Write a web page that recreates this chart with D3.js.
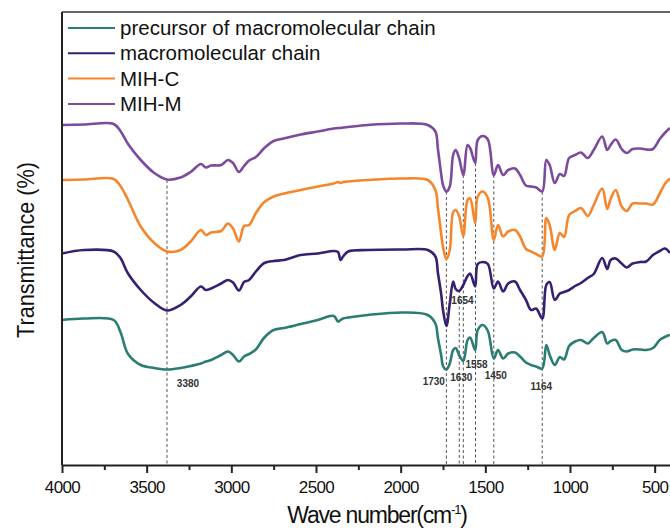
<!DOCTYPE html>
<html>
<head>
<meta charset="utf-8">
<script src="https://cdn.jsdelivr.net/npm/d3@7"></script>
<style>
  body { margin: 0; background: #fff; }
  svg { display: block; font-family: "Liberation Sans", Arial, sans-serif; }
</style>
</head>
<body>
<div id="chart"></div>
<script>
// wave numbers (cm-1) shared by all spectra
var wavenumbers = [4000, 3870, 3695, 3655, 3610, 3535, 3455, 3380, 3300, 3240,
  3180, 3150, 3120, 3060, 3020, 2990, 2955, 2925, 2895, 2855,
  2805, 2750, 2690, 2590, 2490, 2395, 2370, 2355, 2340, 2310,
  2195, 1990, 1840, 1795, 1780, 1760, 1750, 1730, 1710, 1690,
  1675, 1655, 1630, 1605, 1590, 1560, 1545, 1515, 1485, 1450,
  1425, 1395, 1365, 1325, 1295, 1260, 1230, 1200, 1164, 1140,
  1120, 1090, 1060, 1035, 1005, 970, 935, 895, 860, 810,
  780, 760, 730, 695, 665, 630, 585, 550, 510, 470,
  440, 410];

// transmittance, offset (a.u.)
var precursor = [29, 29.3, 29, 26.6, 22.2, 20, 19.4, 19.1, 19.4, 19.8,
  20.3, 20.7, 21, 22, 22.7, 22, 20.7, 21.7, 22.2, 23.1,
  25.5, 27, 27.4, 28.2, 29, 29.8, 28.7, 29, 29.3, 29.5,
  30, 30.5, 30, 28.3, 25.4, 21.8, 19.8, 19.1, 20.3, 23,
  23.4, 22, 20.8, 25, 25.5, 23, 27, 28, 26.8, 21.3,
  23, 21.3, 22.3, 22.5, 21.7, 20.5, 20, 19.7, 19.3, 24,
  22, 20, 21.6, 21.1, 23.8, 24.7, 25, 24.3, 25.4, 26.6,
  24.3, 24.8, 25, 23, 22.7, 23.1, 23.1, 23, 23.4, 25,
  25.6, 26];

var macroChain = [42.3, 43, 42.7, 41.4, 38.3, 35, 32.4, 30.9, 32, 33.7,
  35.7, 35, 35.3, 36.3, 37, 36.5, 34.9, 36.6, 37, 38.7,
  40.4, 40.8, 41, 42, 42.3, 42.8, 42.6, 41, 41.7, 42.7,
  43, 43.1, 43, 41.7, 38.4, 34, 31, 27.8, 32.3, 36.7,
  35.2, 34.8, 36, 37.8, 38.3, 35.7, 40.2, 40.6, 40.2, 35.3,
  36.7, 34.7, 36.3, 36.7, 35, 33, 31, 31.3, 29.3, 36,
  36.6, 33, 34.3, 34.6, 35, 35.8, 36.4, 37.4, 38.2, 41.4,
  39.2, 41, 41.3, 40.3, 39.5, 40.3, 40.6, 40.7, 42, 42.8,
  43.3, 42.4];

var mihC = [57, 57.1, 57.2, 55.8, 53, 47.7, 44.4, 42.7, 43, 44.7,
  47, 46, 46.5, 46.8, 48.3, 47.3, 44.7, 47.8, 48, 50.4,
  52.6, 53.7, 54.3, 55, 55.7, 56.3, 56.6, 56.4, 56.6, 56.7,
  57, 57.3, 57, 55, 51.4, 46, 43.6, 41.2, 43, 50.6,
  51, 49.8, 45.8, 53, 53.3, 48.4, 53.7, 54.7, 53.4, 45,
  48, 45.7, 46.7, 47, 45.7, 43.2, 42.7, 42.2, 41.7, 49.4,
  48, 43, 46.4, 45.6, 50, 50.8, 51.4, 49.8, 52, 55.3,
  51.2, 53.2, 55, 51.7, 50.8, 52.3, 52.3, 52.3, 52.1, 54.3,
  56.2, 57.3];

var mihM = [68, 68.1, 68.2, 66.8, 64.2, 61, 58.4, 57.1, 57.5, 58.6,
  60.2, 59.5, 59.9, 60, 61, 60.4, 58.6, 59.8, 60.9, 61.6,
  63.4, 64.8, 65.3, 66.1, 66.7, 67.3, 67.4, 67.4, 67.5, 67.6,
  68, 68.3, 68, 66.7, 63.2, 58, 56, 54.7, 55.7, 62,
  63, 61.4, 58, 64, 63.4, 60.4, 65, 65.8, 65.1, 58,
  60, 58, 59, 59.3, 58, 55.9, 55.7, 55.5, 54.7, 61,
  60, 56.4, 58.2, 57.8, 61.4, 62, 62.5, 61.4, 63, 65.7,
  63, 64, 65.1, 63.2, 62.4, 63.2, 63.3, 63.1, 63.2, 65.2,
  66.4, 67.4];

var seriesNames = ["precursor of macromolecular chain", "macromolecular chain", "MIH-C", "MIH-M"];
var seriesColors = ["#2b7d73", "#36206f", "#f5862c", "#7c4b9e"];

var xTicks = [4000, 3500, 3000, 2500, 2000, 1500, 1000, 500];
var xMinorTicks = [3750, 3250, 2750, 2250, 1750, 1250, 750];

// marked bands and where each dashed guide starts (a.u.)
var peakWavenumbers = [3380, 1730, 1654, 1630, 1558, 1450, 1164];
var peakTops = [57, 54.7, 35, 58, 60.4, 58, 54.6];

// svg params
var svgWidth = 670;
var svgHeight = 531;

var margin = { top: 12, left: 62 };
var chartHeight = 453;
var chartWidth = 609.6;

var svg = d3.select("#chart").append("svg")
  .attr("width", svgWidth)
  .attr("height", svgHeight);

var chartGroup = svg.append("g")
  .attr("transform", `translate(${margin.left}, ${margin.top})`);

var xScale = d3.scaleLinear()
  .domain([4000, 400])
  .range([0, chartWidth]);

var yScale = d3.scaleLinear()
  .domain([0, 90.6])
  .range([chartHeight, 0]);

// dashed guides
var labelLayout = [
  { dx: 21, y: 375 }, { dx: -12.6, y: 372.5 }, { dx: 3.2, y: 292 },
  { dx: -2, y: 369 }, { dx: 1, y: 355.5 }, { dx: 2, y: 367 }, { dx: -1, y: 378 }
];

chartGroup.selectAll(".guide")
  .data(peakWavenumbers)
  .enter()
  .append("line")
  .attr("class", "guide")
  .attr("x1", d => xScale(d))
  .attr("x2", d => xScale(d))
  .attr("y1", (d, i) => yScale(peakTops[i]))
  .attr("y2", chartHeight)
  .attr("stroke", "#555")
  .attr("stroke-width", 1)
  .attr("stroke-dasharray", "3,2.5");

chartGroup.selectAll(".peakLabel")
  .data(peakWavenumbers)
  .enter()
  .append("text")
  .attr("class", "peakLabel")
  .attr("x", (d, i) => xScale(d) + labelLayout[i].dx)
  .attr("y", (d, i) => labelLayout[i].y)
  .attr("text-anchor", "middle")
  .attr("font-size", "10px")
  .attr("font-weight", "bold")
  .attr("fill", "#333")
  .text(d => d);

// spectra
var allSeries = [precursor, macroChain, mihC, mihM];

var line = d3.line()
  .x((d, i) => xScale(wavenumbers[i]))
  .y(d => yScale(d))
  .curve(d3.curveCatmullRom.alpha(0.5));

chartGroup.selectAll(".spectrum")
  .data(allSeries)
  .enter()
  .append("path")
  .attr("class", "spectrum")
  .attr("d", d => line(d))
  .attr("fill", "none")
  .attr("stroke", (d, i) => seriesColors[i])
  .attr("stroke-width", 2.6)
  .attr("stroke-linejoin", "round");

// axes
var xAxis = d3.axisBottom(xScale)
  .tickValues(xTicks)
  .tickSize(8)
  .tickSizeOuter(0)
  .tickPadding(8)
  .tickFormat(d3.format("d"));

var xAxisGroup = chartGroup.append("g")
  .attr("transform", `translate(0, ${chartHeight})`)
  .call(xAxis);

xAxisGroup.select(".domain").attr("stroke", "#222").attr("stroke-width", 2);
xAxisGroup.selectAll(".tick line").attr("stroke", "#222").attr("stroke-width", 2);
xAxisGroup.selectAll("text")
  .attr("font-size", "17px")
  .attr("font-family", "Liberation Sans, Arial, sans-serif")
  .attr("letter-spacing", "-0.6px")
  .attr("fill", "#111");

var minorAxis = chartGroup.append("g")
  .attr("transform", `translate(0, ${chartHeight})`)
  .call(d3.axisBottom(xScale).tickValues(xMinorTicks).tickSize(5).tickFormat(""));
minorAxis.select(".domain").remove();
minorAxis.selectAll(".tick line").attr("stroke", "#222").attr("stroke-width", 2);

// frame: left and top
chartGroup.append("line")
  .attr("x1", 0).attr("x2", 0)
  .attr("y1", 0).attr("y2", chartHeight)
  .attr("stroke", "#222").attr("stroke-width", 2);

chartGroup.append("line")
  .attr("x1", 0).attr("x2", chartWidth)
  .attr("y1", 0).attr("y2", 0)
  .attr("stroke", "#333").attr("stroke-width", 1.6);

// legend
var legend = chartGroup.selectAll(".legendRow")
  .data(seriesNames)
  .enter()
  .append("g")
  .attr("class", "legendRow")
  .attr("transform", (d, i) => `translate(6, ${16 + i * 25.3})`);

legend.append("line")
  .attr("x1", 0).attr("x2", 47)
  .attr("stroke", (d, i) => seriesColors[i])
  .attr("stroke-width", 2);

legend.append("text")
  .attr("x", 52)
  .attr("y", 7)
  .attr("font-size", "20.5px")
  .attr("fill", "#111")
  .text(d => d);

// axes labels
svg.append("text")
  .attr("transform", "translate(34, 250) rotate(-90)")
  .attr("text-anchor", "middle")
  .attr("font-size", "24px")
  .attr("textLength", 176)
  .attr("lengthAdjust", "spacingAndGlyphs")
  .attr("fill", "#111")
  .text("Transmittance (%)");

var xTitle = svg.append("text")
  .attr("x", 377)
  .attr("y", 523)
  .attr("text-anchor", "middle")
  .attr("font-size", "23px")
  .attr("letter-spacing", "-1.2px")
  .attr("fill", "#111");
xTitle.append("tspan").text("Wave number(cm");
xTitle.append("tspan").attr("font-size", "13px").attr("dy", "-9").text("-1");
xTitle.append("tspan").attr("dy", "9").text(")");
</script>
</body>
</html>
